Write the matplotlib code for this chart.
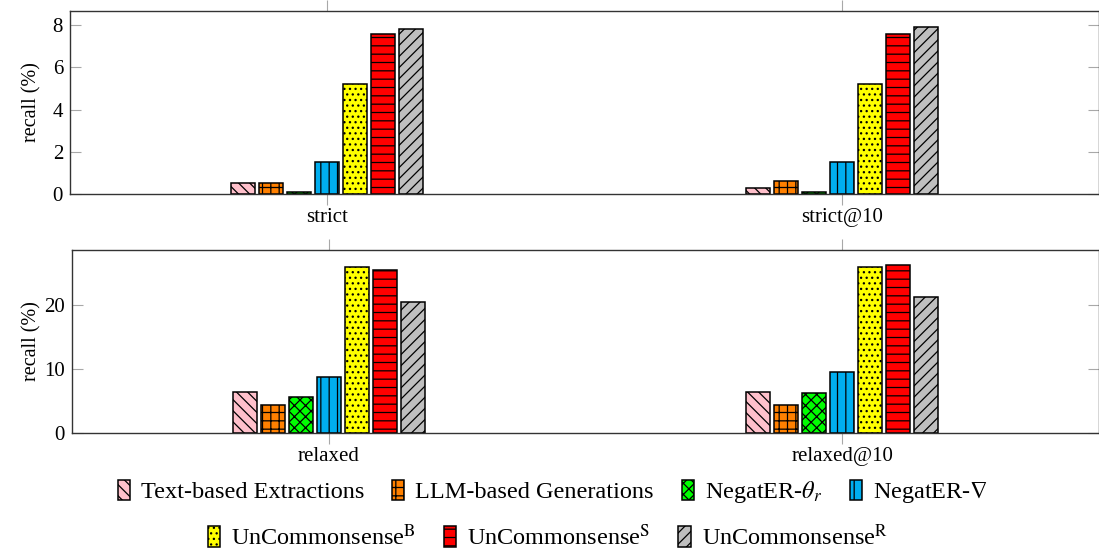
import numpy as np
import matplotlib.pyplot as plt

# ============================
# Dados
# ============================
methods = [
    "Text-based Extractions",
    "LLM-based Generations",
    r"NegatER-$\theta_r$",
    r"NegatER-$\nabla$",
    r"UnCommonsense$^{\mathrm{B}}$",
    r"UnCommonsense$^{\mathrm{S}}$",
    r"UnCommonsense$^{\mathrm{R}}$",
]
colors = ["#ffc0cb", "#ff8000", "#00ff00", "#00aeef", "#ffff00", "#ff0000", "#bfbfbf"]
hatches = ["\\\\\\", "++", "xxx", "||", "...", "--", "///"]

top_groups = ["strict", "strict@10"]
strict = [0.5, 0.5, 0.1, 1.5, 5.2, 7.6, 7.8]
strict10 = [0.3, 0.6, 0.1, 1.5, 5.2, 7.6, 7.9]

bottom_groups = ["relaxed", "relaxed@10"]
relaxed = [6.4, 4.3, 5.6, 8.7, 25.9, 25.5, 20.5]
relaxed10 = [6.4, 4.4, 6.3, 9.6, 25.9, 26.2, 21.3]

# ============================
# Estilo
# ============================
plt.rcParams["font.family"] = ["Liberation Serif", "DejaVu Serif"]
plt.rcParams["mathtext.fontset"] = "stix"
plt.rcParams["hatch.linewidth"] = 0.9

fig = plt.figure(figsize=(10.99, 5.52), dpi=100)
ax_top = fig.add_axes([70 / 1099, 1 - 194 / 552, 1029 / 1099, 183 / 552])
ax_bot = fig.add_axes([72 / 1099, 1 - 433 / 552, 1027 / 1099, 183 / 552])

step = 0.0544
width = 0.0466


def draw(ax, groups, series, ymax, yticks):
    x = np.arange(len(groups))
    bars = []
    for i, vals in enumerate(series):
        b = ax.bar(x + (i - 3) * step, vals, width, color=colors[i],
                   hatch=hatches[i], edgecolor="black", linewidth=1.1,
                   label=methods[i])
        bars.append(b)
    ax.set_xlim(-0.5, 1.5)
    ax.set_ylim(0, ymax)
    ax.set_xticks(x)
    ax.set_xticklabels(groups)
    ax.set_yticks(yticks)
    ax.tick_params(axis="y", direction="in", length=8, color="#a8a8a8",
                   right=True, labelsize=15, pad=5)
    ax.tick_params(axis="x", direction="out", length=8, color="#a8a8a8",
                   top=True, labelsize=15, pad=2)
    ax.set_ylabel("recall (%)", fontsize=14.5)
    for s in ax.spines.values():
        s.set_color("#333333")
        s.set_linewidth(1.0)
    return bars


top_series = [[a, b] for a, b in zip(strict, strict10)]
bot_series = [[a, b] for a, b in zip(relaxed, relaxed10)]

bars = draw(ax_top, top_groups, top_series, 8.67, [0, 2, 4, 6, 8])
draw(ax_bot, bottom_groups, bot_series, 28.6, [0, 10, 20])
ax_top.yaxis.set_label_coords(-29 / 1029, 0.5)
ax_bot.yaxis.set_label_coords(-31 / 1027, 0.5)

# ============================
# Legenda em duas linhas
# ============================
leg_kw = dict(frameon=False, fontsize=17.5, handlelength=0.5, handleheight=0.9,
              handletextpad=0.45, columnspacing=1.15, borderaxespad=0)
fig.legend(bars[:4], methods[:4], loc="center", ncol=4,
           bbox_to_anchor=(553 / 1099, 1 - 492 / 552), **leg_kw)
fig.legend(bars[4:], methods[4:], loc="center", ncol=3,
           bbox_to_anchor=(548 / 1099, 1 - 537 / 552), **leg_kw)

plt.savefig("out.png", dpi=100)
plt.close()
